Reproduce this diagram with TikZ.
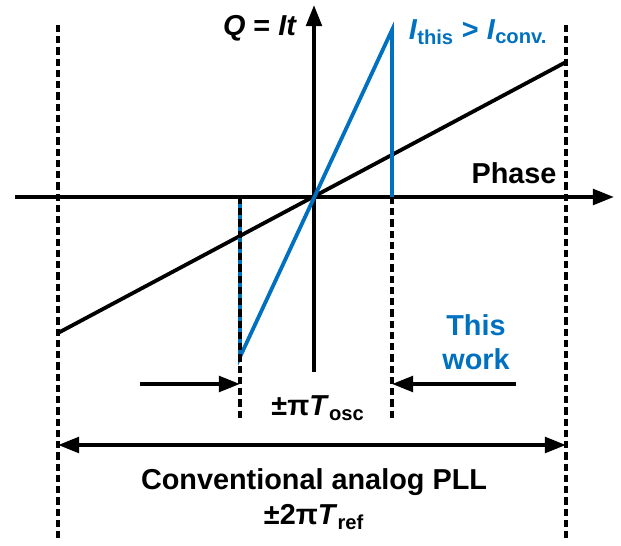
\documentclass[tikz,border=0pt]{standalone}
\usepackage{fontspec}
\setmainfont{Liberation Sans}
\usetikzlibrary{arrows.meta}
\definecolor{WorkBlue}{RGB}{0,112,192}

\begin{document}
\begin{tikzpicture}[x=0.025cm, y=-0.025cm,
axis/.style={draw=black, line width=2.8pt, -{Triangle[length=15pt, width=11pt]}},
slope/.style={line width=2.7pt},
guide/.style={draw=black, line width=2.4pt, dash pattern=on 5pt off 3pt},
span/.style={draw=black, line width=2.8pt, -{Triangle[length=15pt, width=11pt]}},
lbl/.style={font=\fontsize{20.5}{24}\selectfont\bfseries, inner sep=0pt, align=center}]
\useasboundingbox (0,0) rectangle (621,546);
\coordinate (O) at (314,197);
\coordinate (xl) at (15,197); \coordinate (xr) at (614,197);
\coordinate (yb) at (314,372); \coordinate (yt) at (314,5);
\coordinate (cl) at (58,333); \coordinate (cr) at (566,62);
\coordinate (bl) at (240,357); \coordinate (bt) at (392,30);
\coordinate (bla) at (240,197); \coordinate (bra) at (392,197);
\coordinate (gl) at (240,418); \coordinate (gr) at (392,418);
\coordinate (ol1) at (58,25); \coordinate (ol2) at (58,540);
\coordinate (or1) at (566,25); \coordinate (or2) at (566,538);
\coordinate (al) at (140,384); \coordinate (ar) at (516,384);
\coordinate (dl) at (58,445); \coordinate (dr) at (566,445);
\draw[axis] (xl)--(xr); \draw[axis] (yb)--(yt);
\draw[slope] (cl)--(cr);
\draw[slope, WorkBlue] (bla)--(bl)--(bt)--(bra);
\draw[guide] (ol1)--(ol2); \draw[guide] (or1)--(or2);
\draw[guide] (bla)--(gl); \draw[guide] (bra)--(gr);
\draw[span] (al)--(gl|-al); \draw[span] (ar)--(gr|-ar);
\draw[span, {Triangle[length=15pt, width=11pt]}-{Triangle[length=15pt, width=11pt]}] (dl)--(dr);
\node[lbl] (q) at (260,28) {\textit{Q} = \textit{It}};
\node[lbl, WorkBlue] (cmp) at (478,32) {\textit{I}\textsubscript{this} > \textit{I}\textsubscript{conv.}};
\node[lbl] (ph) at (514,173) {Phase};
\node[lbl, WorkBlue] (tw) at (476,342) {This\\work};
\node[lbl] (osc) at (318,408) {±π\textit{T}\textsubscript{osc}};
\node[lbl] (conv) at (314,482) {Conventional analog PLL};
\node[lbl] (ref) at (314,517) {±2π\textit{T}\textsubscript{ref}};
\end{tikzpicture}
\end{document}
